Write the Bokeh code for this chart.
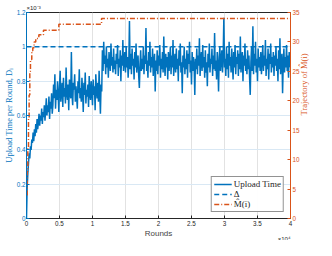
import numpy as np
from bokeh.plotting import figure
from bokeh.models import (Range1d, LinearAxis, FixedTicker, CustomJSTickFormatter,
                          Legend, LegendItem, Title)
from bokeh.embed import file_html
from bokeh.resources import INLINE

# ---------------- data ----------------
ROUND_STEP = 100  # rounds between samples
# upload time per round, in units of 1e-5
upload_early = [0, 18, 26, 32, 38, 35, 42, 40, 46, 44, 50, 45, 52, 48, 55, 50, 58, 52, 56, 61,
                54, 60, 57, 64, 55, 62, 59, 66, 57, 63, 70, 60, 66, 62, 71, 58, 68, 64, 73, 61]
upload_mid = [66, 78, 70, 84, 64, 75, 69, 80, 72, 62, 77, 86, 68, 74, 79, 65, 82, 71, 76, 67,
              88, 73, 69, 78, 63, 81, 74, 70, 97, 72, 66, 79, 75, 84, 68, 77, 71, 64, 80, 73,
              87, 70, 76, 68, 82, 74, 62, 79, 72, 85, 67, 75, 71, 78, 65, 83, 73, 69, 80, 74,
              66, 81, 72, 77, 63, 84, 75, 70, 79, 68, 86, 73, 61, 78, 74]
upload_late = [98, 86, 103, 90, 95, 84, 100, 88, 93, 82, 97, 91, 86, 102, 89, 94, 85, 99, 87, 92,
               84, 96, 90, 101, 83, 93, 88, 98, 80, 95, 89, 104, 86, 92, 97, 85, 100, 88, 94, 82,
               90, 115, 87, 96, 84, 99, 89, 93, 81, 97, 88, 102, 85, 91, 95, 83, 76, 90, 98, 86,
               93, 87, 100, 84, 95, 90, 111, 86, 92, 82, 97, 89, 103, 85, 94, 88, 99, 83, 91, 96,
               74, 92, 86, 98, 84, 95, 89, 101, 82, 93, 87, 97, 85, 106, 90, 83, 96, 88, 94, 81,
               97, 86, 92, 100, 84, 95, 88, 104, 83, 91, 96, 85, 99, 87, 93, 80, 98, 89, 102, 85,
               91, 73, 95, 88, 100, 84, 93, 87, 98, 82, 96, 90, 103, 85, 92, 78, 97, 86, 94, 89,
               72, 93, 87, 99, 84, 95, 89, 105, 83, 92, 97, 86, 101, 88, 94, 82, 98, 85, 91, 77,
               96, 88, 102, 85, 93, 90, 99, 83, 95, 87, 108, 86, 92, 81, 97, 89, 74, 94, 100, 86,
               92, 98, 85, 95, 117, 88, 93, 83, 100, 87, 96, 82, 103, 89, 94, 85, 99, 90, 81, 97,
               88, 101, 84, 94, 90, 98, 83, 96, 87, 106, 85, 92, 97, 80, 95, 89, 102, 86, 93, 84,
               98, 87, 95, 82, 72, 91, 100, 86, 112, 84, 96, 89, 103, 85, 93, 80, 99, 88, 94, 86,
               97, 84, 92, 101, 86, 95, 89, 104, 83, 93, 87, 99, 81, 96, 90, 102, 85, 94, 88, 97,
               83, 95, 89, 100, 86, 93, 80, 98, 87, 105, 84, 92, 96, 73, 90, 99, 85, 94, 88, 101,
               86, 95, 82, 97, 90, 88]
delta_value = 1.0  # x1e-3
m_rounds = [0, 100, 200, 300, 400, 500, 600, 800, 950, 1150, 1400, 1870, 2570, 4900, 11370, 40000]
m_values = [4, 8, 12, 17, 21, 25, 27, 28.5, 29, 30, 30.6, 31.2, 32, 33, 34, 34]
x_ticks = [0, 5000, 10000, 15000, 20000, 25000, 30000, 35000, 40000]
left_ticks = [0, 0.2, 0.4, 0.6, 0.8, 1.0, 1.2]
right_ticks = [0, 5, 10, 15, 20, 25, 30, 35]

upload = np.array(upload_early + upload_mid + upload_late) / 100.0  # -> units of 1e-3
rounds = np.arange(len(upload)) * ROUND_STEP

BLUE = "#0072BD"
ORANGE = "#D95319"
DARK = "#262626"
SANS = "Liberation Sans"
SERIF = "Liberation Serif"

p = figure(width=316, height=240, output_backend="svg", toolbar_location=None,
           x_range=Range1d(0, 40000), y_range=Range1d(0, 1.2),
           min_border_left=0, min_border_right=0, min_border_top=0, min_border_bottom=0)
p.outline_line_color = DARK
p.outline_line_width = 1
p.background_fill_color = "white"

# grids
p.xgrid.ticker = FixedTicker(ticks=x_ticks)
p.ygrid.ticker = FixedTicker(ticks=left_ticks)
p.xgrid.grid_line_color = "#e2e2e2"
p.ygrid.grid_line_color = "#d9e8f4"

# x axis
xa = p.xaxis[0]
xa.ticker = FixedTicker(ticks=x_ticks)
xa.formatter = CustomJSTickFormatter(code="return String(tick/10000);")
xa.axis_label = "Rounds"
xa.axis_label_text_font = SANS
xa.axis_label_text_font_style = "normal"
xa.axis_label_text_font_size = "8px"
xa.axis_label_standoff = 0
xa.axis_line_color = DARK
xa.major_tick_line_color = DARK
xa.major_tick_in = 3
xa.major_tick_out = 0
xa.minor_tick_line_color = None
xa.major_label_text_font = SANS
xa.major_label_text_font_size = "6.3px"
xa.major_label_text_color = DARK
xa.major_label_standoff = 2

# left axis
ya = p.yaxis[0]
ya.ticker = FixedTicker(ticks=left_ticks)
ya.formatter = CustomJSTickFormatter(code="return tick.toFixed(1).replace(/\\.0$/, '');")
ya.axis_label = "Upload Time per Round, Dᵢ"
ya.axis_label_text_font = SERIF
ya.axis_label_text_font_style = "normal"
ya.axis_label_text_font_size = "8.5px"
ya.axis_label_text_color = BLUE
ya.axis_label_standoff = 0
ya.axis_line_color = BLUE
ya.major_tick_line_color = BLUE
ya.major_tick_in = 3
ya.major_tick_out = 0
ya.minor_tick_line_color = None
ya.major_label_text_font = SANS
ya.major_label_text_font_size = "6.3px"
ya.major_label_text_color = BLUE
ya.major_label_standoff = 1

# right axis
p.extra_y_ranges = {"m": Range1d(0, 35)}
ra = LinearAxis(y_range_name="m", ticker=FixedTicker(ticks=right_ticks))
ra.axis_line_color = ORANGE
ra.major_tick_line_color = ORANGE
ra.major_tick_in = 3
ra.major_tick_out = 0
ra.minor_tick_line_color = None
ra.major_label_text_font = SANS
ra.major_label_text_font_size = "6.3px"
ra.major_label_text_color = ORANGE
ra.major_label_standoff = 2
ra.axis_label = "Trajectory of M̂(i)"
ra.axis_label_text_font = SERIF
ra.axis_label_text_font_style = "normal"
ra.axis_label_text_font_size = "8.5px"
ra.axis_label_text_color = ORANGE
ra.axis_label_standoff = 1
if "axis_label_orientation" in ra.properties():
    ra.axis_label_orientation = float(np.pi / 2)
p.add_layout(ra, "right")

# series
r_delta = p.line([rounds[0], rounds[-1]], [delta_value, delta_value], line_color=BLUE,
                 line_width=1.5, line_dash="5 3")
r_up = p.line(rounds, upload, line_color=BLUE, line_width=1.5)
r_m = p.step(m_rounds, m_values, mode="after", y_range_name="m", line_color=ORANGE,
             line_width=1.5, line_dash="5 2 1 2")

legend = Legend(items=[LegendItem(label="Upload Time", renderers=[r_up]),
                       LegendItem(label="Δ", renderers=[r_delta]),
                       LegendItem(label="M̂(i)", renderers=[r_m])],
                location="bottom_right")
legend.label_text_font = SERIF
legend.label_text_font_size = "9px"
legend.label_text_color = DARK
legend.glyph_width = 18
legend.glyph_height = 10
legend.label_height = 10
legend.label_standoff = 2
legend.spacing = 0
legend.padding = 2
legend.margin = 6
legend.border_line_color = DARK
legend.border_line_width = 0.7
p.add_layout(legend)

# exponent notes
t_top = Title(text="×10⁻³", align="left", vertical_align="bottom", text_font=SANS,
              text_font_size="6px", text_font_style="normal", text_color=DARK, standoff=4)
p.add_layout(t_top, "above")
t_bot = Title(text="×10⁴", align="right", vertical_align="top", text_font=SANS,
              text_font_size="6px", text_font_style="normal", text_color=DARK, standoff=-10)
p.add_layout(t_bot, "below")

open("out.html", "w").write(file_html(p, INLINE))
